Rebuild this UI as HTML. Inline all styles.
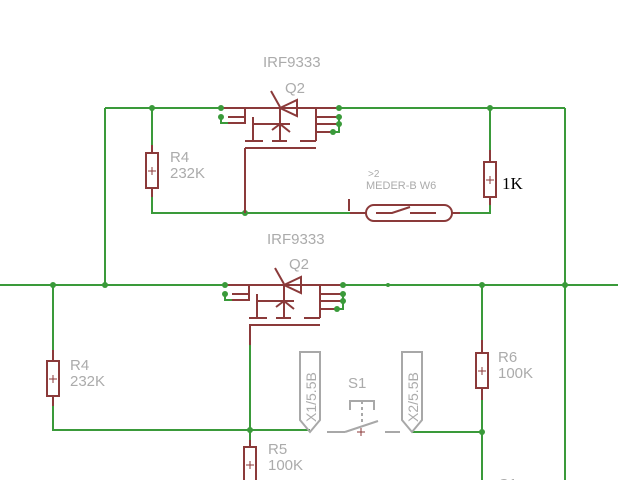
<!DOCTYPE html>
<html><head><meta charset="utf-8"><style>
html,body{margin:0;padding:0;background:#fff;width:618px;height:480px;overflow:hidden}
svg{display:block}
text{font-family:"Liberation Sans",sans-serif;fill:#ababab}
</style></head><body>
<svg width="618" height="480" viewBox="0 0 618 480" xmlns="http://www.w3.org/2000/svg">
<defs>
<g id="fet" fill="none" stroke="#8b3a3a" stroke-width="2">
  <line x1="221" y1="109" x2="339" y2="109"/>
  <polyline points="228,118 245,118 245,124 228,124"/>
  <line x1="245" y1="109" x2="245" y2="118"/>
  <line x1="253" y1="118" x2="253" y2="142"/>
  <line x1="253" y1="125" x2="290" y2="125"/>
  <line x1="245" y1="142" x2="263" y2="142"/>
  <line x1="272" y1="142" x2="287" y2="142"/>
  <line x1="300" y1="142" x2="316" y2="142"/>
  <line x1="280" y1="109" x2="280" y2="142"/>
  <line x1="271" y1="92" x2="280" y2="108"/>
  <polygon points="280,109 297,101 297,117"/>
  <line x1="272" y1="131" x2="280" y2="125"/>
  <line x1="280" y1="125" x2="290" y2="133"/>
  <line x1="316" y1="109" x2="316" y2="142"/>
  <line x1="316" y1="118" x2="339" y2="118"/>
  <line x1="316" y1="125" x2="339" y2="125"/>
  <line x1="316" y1="133" x2="333" y2="133"/>
  <line x1="245" y1="149" x2="316" y2="149"/>
  <g stroke="#3a9a3a"><polyline points="221,118 221,124 228,124"/><polyline points="339,118 339,133 333,133"/></g>
  <g fill="#3a9a3a" stroke="none"><circle cx="221" cy="109" r="3"/><circle cx="221" cy="118" r="3"/><circle cx="339" cy="109" r="3"/><circle cx="339" cy="118" r="3"/><circle cx="339" cy="125" r="3"/><circle cx="333" cy="133" r="3"/></g>
</g>
</defs>
<g fill="none" stroke="#3a9a3a" stroke-width="2">
  <line x1="105" y1="108" x2="221" y2="108"/>
  <line x1="339" y1="108" x2="565" y2="108"/>
  <line x1="105" y1="108" x2="105" y2="285"/>
  <line x1="565" y1="108" x2="565" y2="480"/>
  <line x1="0" y1="285" x2="224" y2="285"/>
  <line x1="343" y1="285" x2="618" y2="285"/>
  <polyline points="152,108 152,145"/>
  <polyline points="152,197 152,213 350,213"/>
  <polyline points="460,213 490,213 490,205"/>
  <line x1="490" y1="108" x2="490" y2="150"/>
  <line x1="53" y1="285" x2="53" y2="350"/>
  <polyline points="53,406 53,430 310,430"/>
  <line x1="250" y1="345" x2="250" y2="440"/>
  <polyline points="412,432 482,432"/>
  <line x1="482" y1="285" x2="482" y2="340"/>
  <line x1="482" y1="400" x2="482" y2="480"/>
</g>
<g fill="#3a9a3a">
  <circle cx="152" cy="108" r="3"/><circle cx="490" cy="108" r="3"/><circle cx="245" cy="213" r="3"/>
  <circle cx="53" cy="285" r="3"/><circle cx="105" cy="285" r="3"/><circle cx="388" cy="285" r="2"/>
  <circle cx="482" cy="285" r="3"/><circle cx="565" cy="285" r="3"/><circle cx="250" cy="430" r="3"/><circle cx="482" cy="432" r="3"/>
</g>
<use href="#fet" transform="translate(0,-1)"/>
<use href="#fet" transform="translate(4,176)"/>
<g fill="none" stroke="#8b3a3a" stroke-width="2">
  <line x1="245" y1="148" x2="245" y2="213"/>
  <line x1="250" y1="325" x2="250" y2="345"/>
  <line x1="152" y1="145" x2="152" y2="197"/><rect x="146" y="153" width="12" height="35" fill="#fff"/>
  <line x1="490" y1="150" x2="490" y2="205"/><rect x="484" y="162" width="12" height="35" fill="#fff"/>
  <line x1="350" y1="213" x2="460" y2="213"/>
  <rect x="366" y="205" width="86" height="16" rx="8" fill="#fff"/>
  <polyline points="376,213 392,213 410,207"/><line x1="410" y1="213" x2="436" y2="213"/>
  <line x1="53" y1="350" x2="53" y2="406"/><rect x="47" y="361" width="12" height="35" fill="#fff"/>
  <line x1="482" y1="340" x2="482" y2="400"/><rect x="476" y="353" width="12" height="35" fill="#fff"/>
  <line x1="250" y1="440" x2="250" y2="480"/><rect x="244" y="447" width="12" height="40" fill="#fff"/>
  <line x1="349" y1="199" x2="349" y2="211"/>
</g>
<g stroke="#8b3a3a" stroke-width="1" fill="none">
  <path d="M148,171h8M152,167v8M486,180h8M490,176v8M49,379h8M53,375v8M478,371h8M482,367v8M246,465h8M250,461v8"/>
</g>
<g fill="none" stroke="#a8a8a8" stroke-width="2">
  <polygon points="300,352 320,352 320,420 310,432 300,420"/>
  <polygon points="402,352 422,352 422,420 412,432 402,420"/>
  <line x1="327" y1="432" x2="345" y2="432"/><polyline points="345,432 378,421"/><line x1="385" y1="432" x2="400" y2="432"/>
  <polyline points="350,410 350,401 374,401 374,410"/><line x1="362" y1="401" x2="362" y2="424" stroke-dasharray="3,3"/>
</g>
<g stroke="#8b3a3a" stroke-width="1"><path d="M357,432h8M361,428v8"/></g>
<text x="263" y="67" font-size="15">IRF9333</text>
<text x="285" y="93" font-size="15">Q2</text>
<text x="267" y="244" font-size="15">IRF9333</text>
<text x="289" y="269" font-size="15">Q2</text>
<text x="170" y="162" font-size="15">R4</text><text x="170" y="178" font-size="15">232K</text>
<text x="70" y="370" font-size="15">R4</text><text x="70" y="386" font-size="15">232K</text>
<text x="268" y="454" font-size="15">R5</text><text x="268" y="470" font-size="15">100K</text>
<text x="498" y="362" font-size="15">R6</text><text x="498" y="378" font-size="15">100K</text>
<text x="498" y="489" font-size="15">C1</text>
<text x="348" y="388" font-size="15">S1</text>
<text x="368" y="177" font-size="10">&gt;2</text>
<text x="366" y="189" font-size="11">MEDER-B W6</text>
<text x="502" y="189" font-size="17" style="font-family:'Liberation Serif',serif;fill:#000">1K</text>
<text transform="translate(316,422) rotate(-90)" font-size="14">X1/5.5B</text>
<text transform="translate(418,422) rotate(-90)" font-size="14">X2/5.5B</text>
</svg>
</body></html>
